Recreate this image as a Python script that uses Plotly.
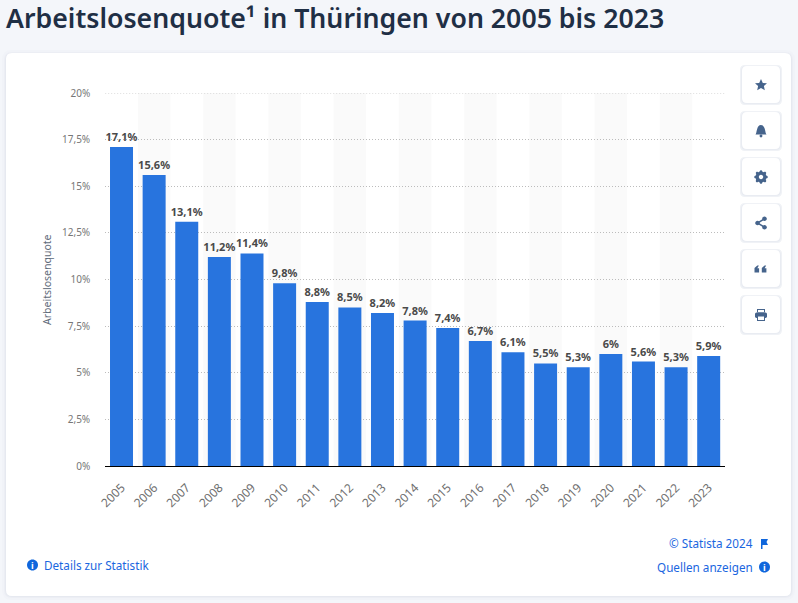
import plotly.graph_objects as go

W, H = 798, 603
years = [str(y) for y in range(2005, 2024)]
values = [17.1, 15.6, 13.1, 11.2, 11.4, 9.8, 8.8, 8.5, 8.2, 7.8, 7.4, 6.7, 6.1, 5.5, 5.3, 6.0, 5.6, 5.3, 5.9]
tick_vals = [0, 2.5, 5, 7.5, 10, 12.5, 15, 17.5, 20]
tick_text = ["0%", "2,5%", "5%", "7,5%", "10%", "12,5%", "15%", "17,5%", "20%"]
title = "Arbeitslosenquote¹ in Thüringen von 2005 bis 2023"
y_title = "Arbeitslosenquote"

FONT = "Noto Sans"
BLUE = "#2874de"
LINK = "#1a66e0"
ICON = "#46648c"
GRID = "#bcbcbc"


def px(x):
    return x / W


def py(y):
    return 1 - y / H


def P(x, y):
    return f"{px(x):.5f},{py(y):.5f}"


def rrect(x0, y0, x1, y1, r):
    return (f"M{P(x0 + r, y0)} L{P(x1 - r, y0)} Q{P(x1, y0)} {P(x1, y0 + r)} "
            f"L{P(x1, y1 - r)} Q{P(x1, y1)} {P(x1 - r, y1)} L{P(x0 + r, y1)} "
            f"Q{P(x0, y1)} {P(x0, y1 - r)} L{P(x0, y0 + r)} Q{P(x0, y0)} {P(x0 + r, y0)} Z")


def paper_shape(path, fill, layer="below"):
    return dict(type="path", xref="paper", yref="paper", path=path, fillcolor=fill,
                line=dict(width=0), layer=layer)


def poly(points):
    return "M" + " L".join(P(x, y) for x, y in points) + " Z"


def disc(cx, cy, r):
    k = 0.5523 * r
    return (f"M{P(cx - r, cy)} C{P(cx - r, cy - k)} {P(cx - k, cy - r)} {P(cx, cy - r)} "
            f"C{P(cx + k, cy - r)} {P(cx + r, cy - k)} {P(cx + r, cy)} "
            f"C{P(cx + r, cy + k)} {P(cx + k, cy + r)} {P(cx, cy + r)} "
            f"C{P(cx - k, cy + r)} {P(cx - r, cy + k)} {P(cx - r, cy)} Z")


shapes = []
# card with soft shadow
for grow, col in ((4, "#f1f3f8"), (2, "#eceef4"), (1, "#e6e9f0")):
    shapes.append(paper_shape(rrect(6 - grow, 53 - grow + 1, 791 + grow, 596 + grow, 6 + grow), col))
shapes.append(paper_shape(rrect(6, 53, 791, 596, 6), "#ffffff"))

# icon buttons
tops = [66, 112, 158, 204, 250, 296]
for t in tops:
    for grow, col in ((2, "#f0f2f6"), (1, "#e9ecf2")):
        shapes.append(paper_shape(rrect(742 - grow, t - grow + 1, 780 + grow, t + 37 + grow, 5), col))
    shapes.append(paper_shape(rrect(742, t, 780, t + 37, 5), "#ffffff"))

cx = 761
# star
cy = 85
shapes.append(paper_shape(poly([(cx, cy - 6), (cx + 1.8, cy - 2), (cx + 6, cy - 1.8), (cx + 2.9, cy + 1),
                                (cx + 3.8, cy + 5.3), (cx, cy + 3), (cx - 3.8, cy + 5.3), (cx - 2.9, cy + 1),
                                (cx - 6, cy - 1.8), (cx - 1.8, cy - 2)]), ICON, "above"))
# bell
cy = 131
shapes.append(paper_shape(
    f"M{P(cx - 5.5, cy + 3.5)} C{P(cx - 4, cy + 2)} {P(cx - 4.5, cy - 6)} {P(cx, cy - 6)} "
    f"C{P(cx + 4.5, cy - 6)} {P(cx + 4, cy + 2)} {P(cx + 5.5, cy + 3.5)} Z", ICON, "above"))
shapes.append(paper_shape(disc(cx, cy + 5, 1.4), ICON, "above"))
# gear
cy = 177
shapes.append(paper_shape(disc(cx, cy, 5.5), ICON, "above"))
for dx, dy in ((0, -5.5), (0, 5.5), (5.5, 0), (-5.5, 0), (3.9, 3.9), (-3.9, 3.9), (3.9, -3.9), (-3.9, -3.9)):
    shapes.append(paper_shape(disc(cx + dx, cy + dy, 1.3), ICON, "above"))
shapes.append(paper_shape(disc(cx, cy, 2.2), "#ffffff", "above"))
# share
cy = 223
for dx, dy in ((3.5, -4.3), (3.5, 4.3), (-3.5, 0)):
    shapes.append(paper_shape(disc(cx + dx, cy + dy, 2.3), ICON, "above"))
shapes.append(dict(type="path", xref="paper", yref="paper", layer="above", line=dict(color=ICON, width=1.5),
                   path=f"M{P(cx + 3.5, cy - 4.3)} L{P(cx - 3.5, cy)} L{P(cx + 3.5, cy + 4.3)}"))
# quote
cy = 269
for dx in (-4.7, 2.6):
    shapes.append(paper_shape(poly([(cx + dx - 1.8, cy + 3.5), (cx + dx - 1.8, cy - 1), (cx + dx + 1, cy - 3.5),
                                    (cx + dx + 2.6, cy - 3.5), (cx + dx + 1, cy - 0.8), (cx + dx + 2.8, cy - 0.8),
                                    (cx + dx + 2.8, cy + 3.5)]), ICON, "above"))
# print
cy = 315
shapes.append(paper_shape(rrect(cx - 6, cy - 2.5, cx + 6, cy + 3, 1.5), ICON, "above"))
shapes.append(paper_shape(poly([(cx - 4, cy - 6), (cx + 4, cy - 6), (cx + 4, cy - 2.5), (cx - 4, cy - 2.5)]), ICON, "above"))
shapes.append(paper_shape(poly([(cx - 3, cy - 5), (cx + 3, cy - 5), (cx + 3, cy - 3), (cx - 3, cy - 3)]), "#ffffff", "above"))
shapes.append(paper_shape(poly([(cx - 4, cy + 1), (cx + 4, cy + 1), (cx + 4, cy + 6), (cx - 4, cy + 6)]), ICON, "above"))
shapes.append(paper_shape(poly([(cx - 3, cy + 1.5), (cx + 3, cy + 1.5), (cx + 3, cy + 5), (cx - 3, cy + 5)]), "#ffffff", "above"))

# alternating column bands
for i in range(1, len(years), 2):
    shapes.append(dict(type="rect", xref="x", yref="paper", x0=i - 0.5, x1=i + 0.5,
                       y0=py(466), y1=py(93), fillcolor="rgba(0,0,0,0.02)",
                       line=dict(width=0), layer="below"))
# top gridline (plotly culls the one at the range edge)
shapes.append(dict(type="line", xref="paper", yref="y", x0=px(105.2), x1=px(725), y0=tick_vals[-1], y1=tick_vals[-1],
                   line=dict(color=GRID, width=1, dash="1px,2px"), layer="below"))

annotations = []


def info(cx_, cy_):
    shapes.append(paper_shape(disc(cx_, cy_, 5.5), "#0f66dc", "above"))
    annotations.append(dict(x=px(cx_), y=py(cy_), xref="paper", yref="paper", text="<b>i</b>", showarrow=False,
                            font=dict(family=FONT, size=9, color="#ffffff"), xanchor="center", yanchor="middle"))


info(32.5, 565)
info(764.5, 567)
# flag
shapes.append(paper_shape(poly([(761, 539), (768, 539), (766.5, 542), (768, 545), (762.5, 545), (762.5, 549), (761, 549)]),
                          "#0f66dc", "above"))


def note(x, y, text, anchor):
    annotations.append(dict(x=px(x), y=py(y), xref="paper", yref="paper", text=text, showarrow=False,
                            xanchor=anchor, yanchor="middle",
                            font=dict(family=FONT, size=11.7, color=LINK)))


note(42, 564.5, "Details zur Statistik", "left")
note(755, 543, "© Statista 2024", "right")
note(755, 567, "Quellen anzeigen", "right")

annotations.append(dict(x=px(47), y=py(280), xref="paper", yref="paper", text=y_title, textangle=-90,
                        showarrow=False, xanchor="center", yanchor="middle",
                        font=dict(family=FONT, size=10.5, color="#5f6b7a")))

labels = [f"{v:g}".replace(".", ",") + "%" for v in values]

fig = go.Figure(go.Bar(
    x=years, y=values, text=labels, textposition="outside", cliponaxis=False, constraintext="none",
    marker=dict(color=BLUE, line=dict(width=0)),
    textfont=dict(family=FONT, size=11, color="#4a4a4a", weight="bold"),
    hoverinfo="skip",
))
fig.update_layout(
    width=W, height=H, autosize=False,
    margin=dict(l=0, r=0, t=0, b=0),
    paper_bgcolor="#f4f6fa", plot_bgcolor="rgba(0,0,0,0)",
    bargap=0.295, showlegend=False,
    title=dict(text=title, x=px(6), y=py(19), xanchor="left", yanchor="middle",
               xref="paper", yref="paper", pad=dict(l=0, r=0, t=0, b=0),
               font=dict(family=FONT, size=26.7, color="#1f2f45", weight=600)),
    xaxis=dict(domain=[px(105.2), px(725)], type="category", tickangle=-45, showgrid=False,
               showline=True, linecolor="#000000", linewidth=1, ticks="", ticklen=0, ticklabelstandoff=9,
               tickfont=dict(family=FONT, size=12, color="#6e6e6e"), automargin=False, range=[-0.5, 18.5]),
    yaxis=dict(domain=[py(466), py(93)], range=[0, 20], tickvals=tick_vals, ticktext=tick_text,
               showgrid=True, gridcolor=GRID, griddash="1px,2px", gridwidth=1, zeroline=False,
               ticks="", tickfont=dict(family=FONT, size=10, color="#777777"), automargin=False, ticklabelstandoff=14),
    shapes=shapes, annotations=annotations,
)
fig.write_html("out.html", config=dict(displayModeBar=False),
               post_script="document.body.style.margin='0';document.documentElement.style.overflow='hidden';")
